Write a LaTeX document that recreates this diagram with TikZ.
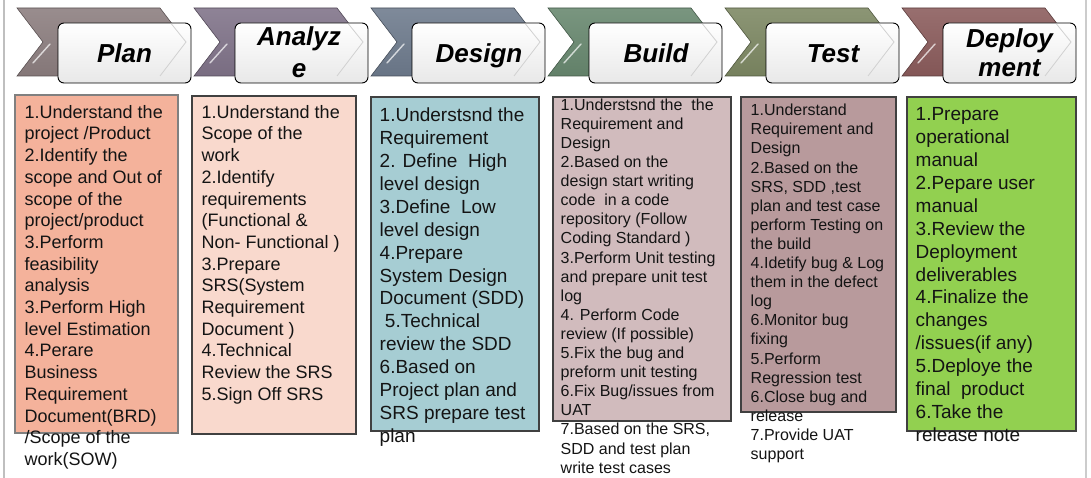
\documentclass[tikz,border=0pt]{standalone}
\usepackage{fontspec}
\setmainfont{Liberation Sans}

% chevron colours of the six phases
\definecolor{cPlan}{HTML}{8B7D7E}
\definecolor{cAnal}{HTML}{7F7288}
\definecolor{cDes}{HTML}{6D7A8C}
\definecolor{cBuild}{HTML}{67876E}
\definecolor{cTest}{HTML}{7C8762}
\definecolor{cDep}{HTML}{8A5B5B}
% task box fills
\definecolor{fPlan}{HTML}{F4B29B}
\definecolor{fAnal}{HTML}{F9D9CD}
\definecolor{fDes}{HTML}{A6CDD3}
\definecolor{fBuild}{HTML}{D1BBBD}
\definecolor{fTest}{HTML}{B89A9C}
\definecolor{fDep}{HTML}{92D050}

\tikzset{
  chev/.style={draw=#1!65!black, line width=0.6pt,
               top color=#1!88!white, bottom color=#1!95!black},
  headbox/.style={draw=black, line width=0.9pt, rounded corners=6pt,
                  top color=white, bottom color=black!9},
  headlabel/.style={inner sep=0pt, align=center,
                    font=\fontsize{26}{30}\selectfont\bfseries\itshape},
  taskbox/.style={draw=black!75, line width=1.1pt},
  tasktext/.style={anchor=north west, align=left, inner sep=0pt, text=black!92},
}

% fixed first-line height, so the top of a list sits 0.9em above its first baseline
\newcommand{\firsttop}{\rule{0pt}{0.9em}}

% one phase header: arrow-shaped band with a rounded label plate on top
\newcommand{\phasehead}[2]{%
  \path[chev=#2] (#1,8) -- ++(143,0) -- ++(26,34) -- ++(-26,34)
        -- ++(-143,0) -- ++(26,-34) -- cycle;
  \draw[white, opacity=0.7, line width=1.4pt, line cap=round]
        (#1+33,44) -- (#1+16,63);
  \path[headbox] (#1+41,23) rectangle (#1+174,83);
  \draw[black!18, line width=0.8pt] (#1+154.5,24) -- (#1+169,42) -- (#1+143,76);
}

\begin{document}
\begin{tikzpicture}[x=1pt,y=-1pt]
\useasboundingbox (0,0) rectangle (1091,478);

% side rules
\draw[black!25, line width=1.4pt] (4,0) -- (4,478);
\draw[black!20, line width=1.4pt] (1086,0) -- (1086,478);

% phase headers
\phasehead{17}{cPlan}
\phasehead{194}{cAnal}
\phasehead{371}{cDes}
\phasehead{548}{cBuild}
\phasehead{725}{cTest}
\phasehead{902}{cDep}

\node[headlabel, anchor=base] (hPlan)  at (124.5,63) {Plan};
\node[headlabel, font=\fontsize{26}{32}\selectfont\bfseries\itshape]
     (hAnal)  at (299,52.5) {Analyz\\e};
\node[headlabel, anchor=base] (hDes)   at (479,63) {Design};
\node[headlabel, anchor=base] (hBuild) at (656,63) {Build};
\node[headlabel, anchor=base] (hTest)  at (833,63) {Test};
\node[headlabel, font=\fontsize{26}{29.5}\selectfont\bfseries\itshape]
     (hDep)   at (1009.5,52.5) {Deploy\\ment};

% task boxes
\path[taskbox, fill=fPlan, draw=black!50] (15,95) rectangle (178,433);
\path[taskbox, fill=fAnal]  (192,96)  rectangle (356,434);
\path[taskbox, fill=fDes]   (371,97)  rectangle (539,431);
\path[taskbox, fill=fBuild] (553,97)  rectangle (731,421);
\path[taskbox, fill=fTest]  (741,97)  rectangle (896,412);
\path[taskbox, fill=fDep]   (907,97)  rectangle (1076,431);

% task lists
\node[tasktext, font=\fontsize{18}{21.7}\selectfont] (tPlan) at (24.5,101.8) {%
\firsttop 1.Understand the\\
project /Product\\
2.Identify the\\
scope and Out of\\
scope of the\\
project/product\\
3.Perform\\
feasibility\\
analysis\\
3.Perform High\\
level Estimation\\
4.Perare\\
Business\\
Requirement\\
Document(BRD)\\
/Scope of the\\
work(SOW)};

\node[tasktext, font=\fontsize{18}{21.7}\selectfont] (tAnal) at (201.5,101.8) {%
\firsttop 1.Understand the\\
Scope of the\\
work\\
2.Identify\\
requirements\\
(Functional \&\\
Non- Functional )\\
3.Prepare\\
SRS(System\\
Requirement\\
Document )\\
4.Technical\\
Review the SRS\\
5.Sign Off SRS};

\node[tasktext, font=\fontsize{19}{22.9}\selectfont] (tDes) at (379.5,104.4) {%
\firsttop 1.Understsnd the\\
Requirement\\
2. Define~ High\\
level design\\
3.Define~ Low\\
level design\\
4.Prepare\\
System Design\\
Document (SDD)\\
~5.Technical\\
review the SDD\\
6.Based on\\
Project plan and\\
SRS prepare test\\
plan};

\node[tasktext, font=\fontsize{16}{19.1}\selectfont] (tBuild) at (560.5,95.6) {%
\firsttop 1.Understsnd the~ the\\
Requirement and\\
Design\\
2.Based on the\\
design start writing\\
code~ in a code\\
repository (Follow\\
Coding Standard )\\
3.Perform Unit testing\\
and prepare unit test\\
log\\
4. Perform Code\\
review (If possible)\\
5.Fix the bug and\\
preform unit testing\\
6.Fix Bug/issues from\\
UAT\\
7.Based on the SRS,\\
SDD and test plan\\
write test cases};

\node[tasktext, font=\fontsize{16}{19.1}\selectfont] (tTest) at (750.5,101.1) {%
\firsttop 1.Understand\\
Requirement and\\
Design\\
2.Based on the\\
SRS, SDD ,test\\
plan and test case\\
perform Testing on\\
the build\\
4.Idetify bug \& Log\\
them in the defect\\
log\\
6.Monitor bug\\
fixing\\
5.Perform\\
Regression test\\
6.Close bug and\\
release\\
7.Provide UAT\\
support};

\node[tasktext, font=\fontsize{19}{22.9}\selectfont] (tDep) at (915.5,103.4) {%
\firsttop 1.Prepare\\
operational\\
manual\\
2.Pepare user\\
manual\\
3.Review the\\
Deployment\\
deliverables\\
4.Finalize the\\
changes\\
/issues(if any)\\
5.Deploye the\\
final~ product\\
6.Take the\\
release note};

\end{tikzpicture}
\end{document}
